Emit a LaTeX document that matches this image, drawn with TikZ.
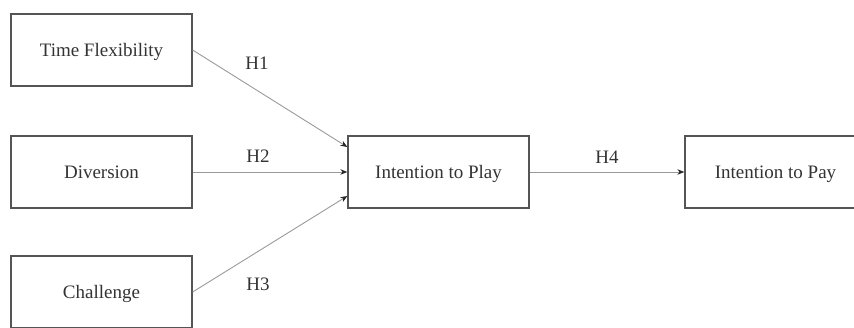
\documentclass[tikz,border=0pt]{standalone}
\usepackage{fontspec}
\setmainfont{Liberation Serif}
\usetikzlibrary{arrows.meta}
\definecolor{boxline}{HTML}{555555}
\definecolor{conn}{HTML}{9A9A9A}
\begin{document}
\begin{tikzpicture}[x=1bp,y=-1bp,
  box/.style={draw=boxline,line width=1.3bp,minimum width=181bp,minimum height=72bp,inner sep=0pt,text height=12.6bp,text depth=0bp,font=\fontsize{19bp}{22bp}\selectfont,text=black!80},
  hlabel/.style={font=\fontsize{19bp}{22bp}\selectfont,text=black!80,inner sep=0pt},
  link/.style={draw=conn,line width=0.9bp,-{Stealth[length=7bp,width=5.5bp,color=black!85]}}]
\useasboundingbox (0,0) rectangle (854,327);
\clip (0,0) rectangle (854,327);
\node[box] (tf) at (101.5,50) {Time Flexibility};
\node[box] (dv) at (101.5,172) {Diversion};
\node[box] (ch) at (101.5,292) {Challenge};
\node[box] (play) at (438.5,172) {Intention to Play};
\node[box] (pay) at (775.5,172) {Intention to Pay};
\coordinate (p1) at ([yshift=25bp]play.west);
\coordinate (p3) at ([yshift=-24bp]play.west);
\draw[link] (tf.east) -- (p1);
\draw[link] (dv.east) -- (play.west);
\draw[link] (ch.east) -- (p3);
\draw[link] (play.east) -- (pay.west);
\node[hlabel] (h1) at (257,63.5) {H1};
\node[hlabel] (h2) at (258,156) {H2};
\node[hlabel] (h3) at (258,284) {H3};
\node[hlabel] (h4) at (607,157) {H4};
\end{tikzpicture}
\end{document}
